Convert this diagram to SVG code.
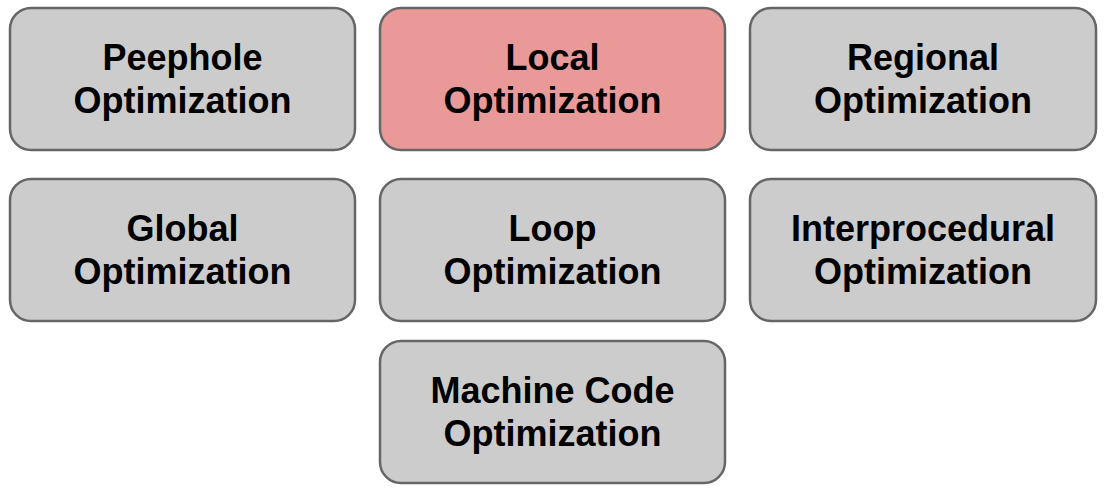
<svg xmlns="http://www.w3.org/2000/svg" width="1107" height="492" viewBox="0 0 1107 492">
<style>
.b{fill:#cccccc;stroke:#666666;stroke-width:2.5}
.r{fill:#ea9999}
text{font-family:"Liberation Sans",Arial,sans-serif;font-weight:bold;font-size:36px;fill:#000;text-anchor:middle}
</style>
<rect width="1107" height="492" fill="#ffffff"/>
<g id="connectors"></g>
<g id="peephole"><rect class="b" x="10" y="8" width="345" height="142" rx="21"/><text x="182.5" y="70">Peephole</text><text x="182.5" y="113">Optimization</text></g>
<g id="local"><rect class="b r" x="380" y="8" width="345" height="142" rx="21"/><text x="552.5" y="70">Local</text><text x="552.5" y="113">Optimization</text></g>
<g id="regional"><rect class="b" x="750" y="8" width="346" height="142" rx="21"/><text x="923" y="70">Regional</text><text x="923" y="113">Optimization</text></g>
<g id="global"><rect class="b" x="10" y="179" width="345" height="142" rx="21"/><text x="182.5" y="241">Global</text><text x="182.5" y="284">Optimization</text></g>
<g id="loop"><rect class="b" x="380" y="179" width="345" height="142" rx="21"/><text x="552.5" y="241">Loop</text><text x="552.5" y="284">Optimization</text></g>
<g id="interprocedural"><rect class="b" x="750" y="179" width="346" height="142" rx="21"/><text x="923" y="241">Interprocedural</text><text x="923" y="284">Optimization</text></g>
<g id="machine"><rect class="b" x="380" y="341" width="345" height="142" rx="21"/><text x="552.5" y="403">Machine Code</text><text x="552.5" y="446">Optimization</text></g>
</svg>
